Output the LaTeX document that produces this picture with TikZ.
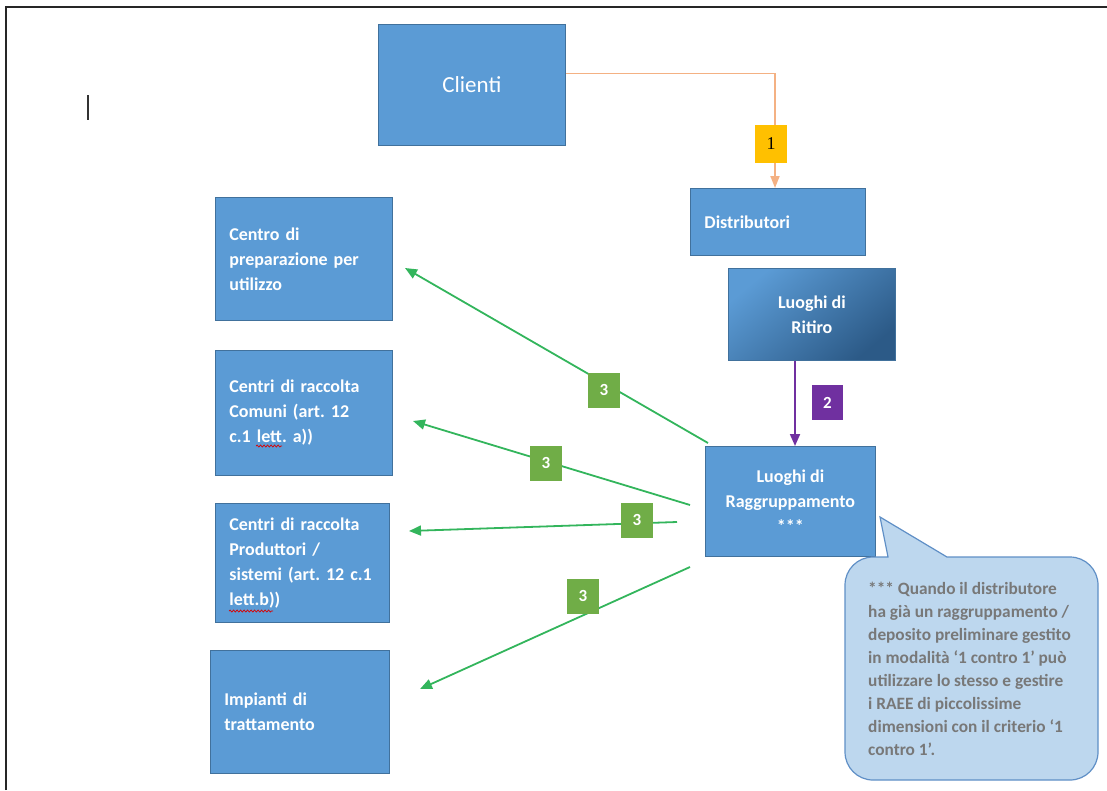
\documentclass[tikz,border=0pt]{standalone}
\usepackage{fontspec}
\setmainfont{Carlito}
\newfontfamily\digitfont{Liberation Serif}
\usetikzlibrary{arrows.meta,decorations.pathmorphing}
\frenchspacing

\definecolor{boxblue}{HTML}{5B9BD5}
\definecolor{boxmid}{HTML}{4F8DC9}
\definecolor{boxedge}{HTML}{41719C}
\definecolor{boxdark}{HTML}{2C5A87}
\definecolor{flowone}{HTML}{F4B183}
\definecolor{tagone}{HTML}{FFC000}
\definecolor{flowtwo}{HTML}{7030A0}
\definecolor{flowthree}{HTML}{33B55C}
\definecolor{tagthree}{HTML}{70AD47}
\definecolor{notefill}{HTML}{BDD7EE}
\definecolor{noteedge}{HTML}{5F8FC6}
\definecolor{notetext}{HTML}{787878}

\tikzset{
  box/.style={draw=boxedge, fill=boxblue, line width=0.8pt, text=white,
    font=\bfseries\fontsize{18}{25}\selectfont, anchor=north west},
  leftbox/.style={box, align=left, inner xsep=14pt, inner ysep=0pt},
  midbox/.style={box, align=center, inner sep=0pt},
  tag/.style={minimum width=32pt, minimum height=35pt, inner sep=0pt,
    font=\bfseries\fontsize{17}{20}\selectfont},
  greentag/.style={tag, fill=tagthree, text=white},
  greenflow/.style={draw=flowthree, line width=1.8pt,
    -{Triangle[length=12pt,width=10pt]}},
  spellmark/.style={draw=red!85!black, line width=0.7pt,
    decorate, decoration={snake, segment length=3.5pt, amplitude=1pt}},
}

\begin{document}
\begin{tikzpicture}[x=1pt, y=-1pt]
\useasboundingbox (0,0) rectangle (1107,790);

% page frame and text cursor
\draw[line width=2.6pt, black!85] (6,790) -- (6,7) -- (1107,7);
\draw[line width=1.2pt, black!80] (88,95) -- (88,120);

% main boxes
\node[midbox, minimum width=187pt, minimum height=121pt,
      font=\fontsize{23}{25}\selectfont] (clienti) at (378,24) {Clienti};
\node[leftbox, text width=147pt, minimum height=67pt] (distrib) at (690,188) {Distributori};
\node[midbox, minimum width=167pt, minimum height=92pt,
      top color=boxblue, middle color=boxmid, bottom color=boxdark,
      shading angle=40] (ritiro) at (728,268) {Luoghi di\\Ritiro};
\node[midbox, minimum width=170pt, minimum height=110pt] (ragg) at (705,446) {Luoghi di\\Raggruppamento\\***};

\node[leftbox, text width=149pt, minimum height=123pt] (prep) at (215,197)
  {Centro di\\preparazione per\\utilizzo};
\node[leftbox, text width=149pt, minimum height=125pt] (comuni) at (215,350)
  {Centri di raccolta\\Comuni (art. 12\\c.1 lett. a))};
\node[leftbox, text width=146pt, minimum height=119pt] (prod) at (215,503)
  {Centri di raccolta\\Produttori /\\sistemi (art. 12 c.1\\lett.b))};
\node[leftbox, text width=151pt, minimum height=123pt] (impianti) at (210,650)
  {Impianti di\\trattamento};

% spell-check marks under "lett"
\draw[spellmark] (256,446) -- (282,446);
\draw[spellmark] (229,611) -- (273,611);

% flow 1: Clienti -> Distributori
\coordinate (drop) at (775,0);
\draw[flowone, line width=1.8pt, -{Triangle[length=12pt,width=9pt]}]
  ([yshift=11.5pt]clienti.east) -| (distrib.north -| drop);
\node[tag, fill=tagone, minimum height=38pt, font=\digitfont\fontsize{18}{20}\selectfont] (t1) at (771,144) {1};

% flow 2: Luoghi di Ritiro -> Luoghi di Raggruppamento
\coordinate (pdrop) at (795,0);
\draw[flowtwo, line width=1.8pt, -{Triangle[length=12pt,width=10pt]}]
  (ritiro.south -| pdrop) -- (ragg.north -| pdrop);
\node[tag, fill=flowtwo, text=white, minimum width=31pt] (t2) at (827.5,402.5) {2};

% flows 3: Luoghi di Raggruppamento -> destinations
\coordinate (s1) at (708,443);  \coordinate (e1) at (405,268);
\coordinate (s2) at (690,505);  \coordinate (e2) at (413,421);
\coordinate (s3) at (677,522);  \coordinate (e3) at (409,531);
\coordinate (s4) at (690,567);  \coordinate (e4) at (420,689);
\draw[greenflow] (s1) -- (e1);
\draw[greenflow] (s2) -- (e2);
\draw[greenflow] (s3) -- (e3);
\draw[greenflow] (s4) -- (e4);
\node[greentag] (t3a) at (604,390) {3};
\node[greentag] (t3b) at (546,463) {3};
\node[greentag] (t3c) at (637,520) {3};
\node[greentag] (t3d) at (583,596) {3};

% speech bubble with the note
\draw[fill=notefill, draw=noteedge, line width=1.2pt]
  (880,517) -- (947,557) [rounded corners=28pt] -- (1098,557) -- (1098,780)
  -- (845,780) -- (845,557) [sharp corners] -- (888,557) -- cycle;
\node[anchor=north west, align=left, inner sep=0pt, text=notetext,
      font=\bfseries\fontsize{17.3}{23}\selectfont] (note) at (868,582)
  {*** Quando il distributore\\ha già un raggruppamento /\\deposito preliminare gestito\\
   in modalità ‘1 contro 1’ può\\utilizzare lo stesso e gestire\\i RAEE di piccolissime\\
   dimensioni con il criterio ‘1\\contro 1’.};
\end{tikzpicture}
\end{document}
